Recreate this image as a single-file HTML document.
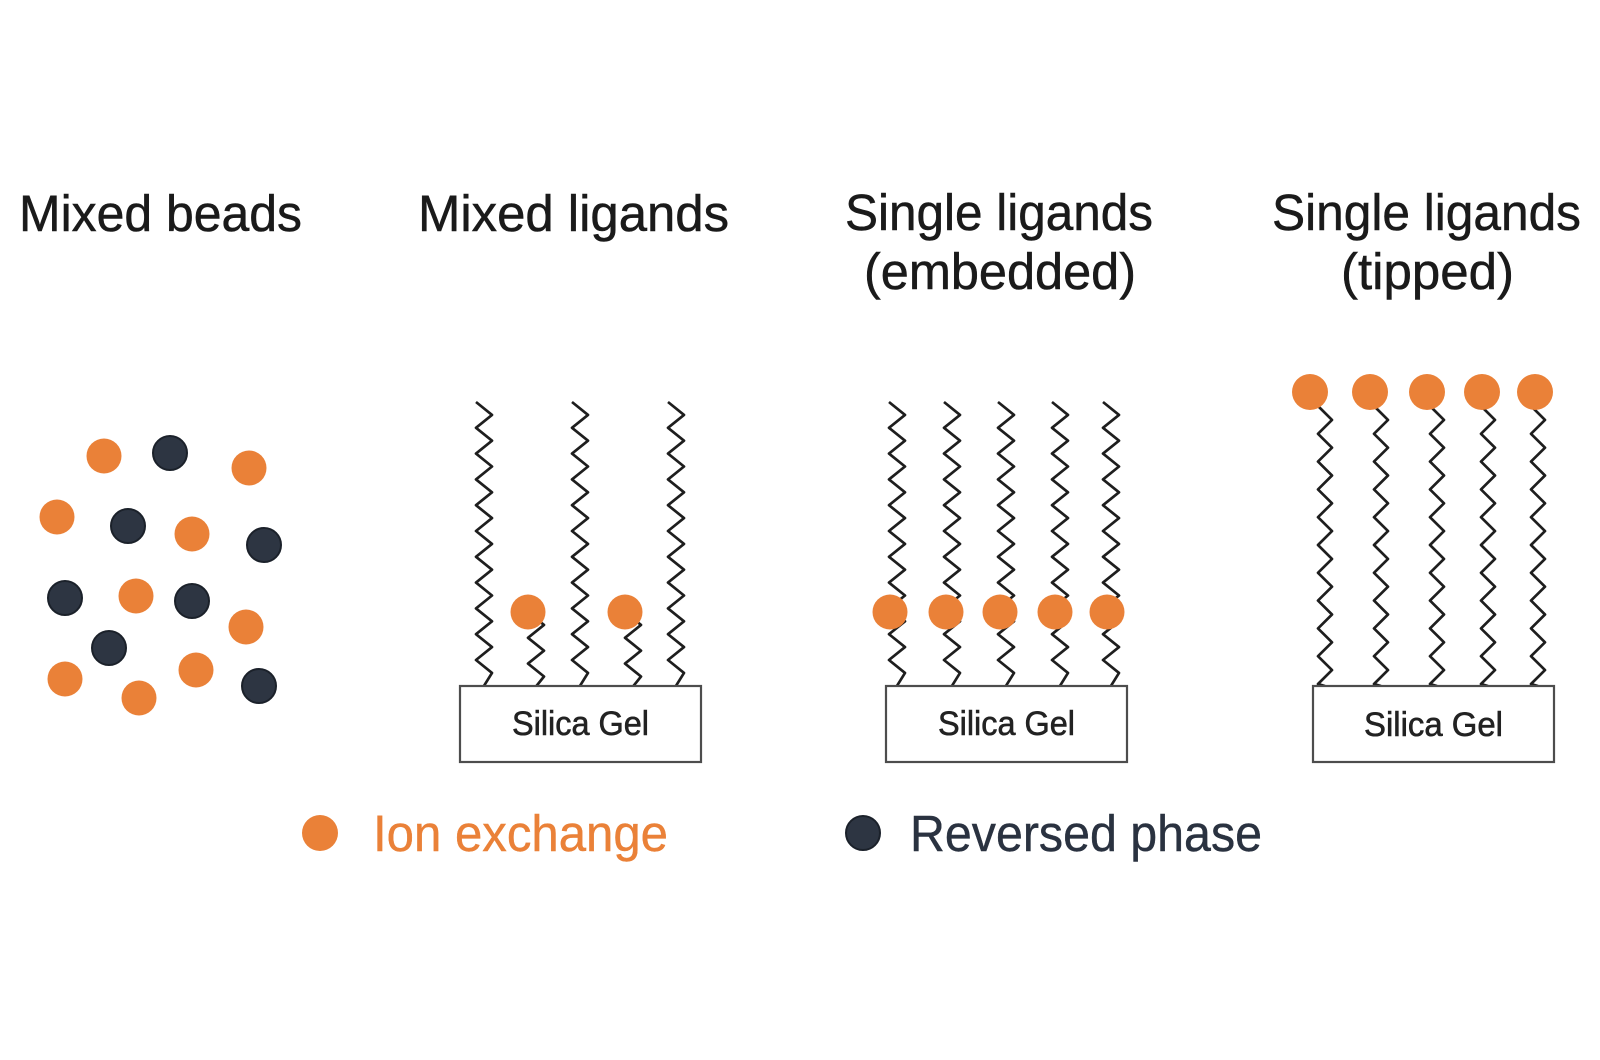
<!DOCTYPE html>
<html>
<head>
<meta charset="utf-8">
<style>
  html, body { margin: 0; padding: 0; background: #ffffff; }
  body { width: 1600px; height: 1060px; overflow: hidden; }
  svg { display: block; }
  text { font-family: "Liberation Sans", Arial, sans-serif; }
</style>
</head>
<body>
<svg width="1600" height="1060" viewBox="0 0 1600 1060" xmlns="http://www.w3.org/2000/svg">
  <defs>
    <path id="lc" fill="none" stroke="#1e1e1e" stroke-width="2.7" stroke-linejoin="round"
      d="M-8,0 l16,12.9 l-16,12.9 l16,12.9 l-16,12.9 l16,12.9 l-16,12.9 l16,12.9 l-16,12.9 l16,12.9 l-16,12.9 l16,12.9 l-16,12.9 l16,12.9 l-16,12.9 l16,12.9 l-16,12.9 l16,12.9 l-16,12.9 l16,12.9 l-16,12.9 l16,12.9 l-8,12.9"/>
    <path id="sc" fill="none" stroke="#1e1e1e" stroke-width="2.7" stroke-linejoin="round"
      d="M-8,0 l16,12.9 l-16,12.9 l16,12.9 l-16,12.9 l16,12.9 l-8,10"/>
    <path id="tc" fill="none" stroke="#1e1e1e" stroke-width="2.7" stroke-linejoin="round"
      d="M-7,0 l14,13.9 l-14,13.9 l14,13.9 l-14,13.9 l14,13.9 l-14,13.9 l14,13.9 l-14,13.9 l14,13.9 l-14,13.9 l14,13.9 l-14,13.9 l14,13.9 l-14,13.9 l14,13.9 l-14,13.9 l14,13.9 l-14,13.9 l14,13.9 l-14,13.9 l7,2"/>
  </defs>

  <rect x="0" y="0" width="1600" height="1060" fill="#ffffff"/>

  <!-- Titles -->
  <g fill="#1a1a1a" stroke="#1a1a1a" stroke-width="0.5" font-size="51">
    <text x="19" y="231" textLength="283" lengthAdjust="spacingAndGlyphs">Mixed beads</text>
    <text x="418" y="231" textLength="311" lengthAdjust="spacingAndGlyphs">Mixed ligands</text>
    <text x="845" y="230" textLength="308" lengthAdjust="spacingAndGlyphs">Single ligands</text>
    <text x="864" y="289" textLength="272" lengthAdjust="spacingAndGlyphs">(embedded)</text>
    <text x="1272" y="230" textLength="309" lengthAdjust="spacingAndGlyphs">Single ligands</text>
    <text x="1341" y="289" textLength="173" lengthAdjust="spacingAndGlyphs">(tipped)</text>
  </g>

  <!-- Column 1: Mixed beads -->
  <g fill="#EA8138">
    <circle cx="104" cy="456" r="17.5"/>
    <circle cx="249" cy="468" r="17.5"/>
    <circle cx="57" cy="517" r="17.5"/>
    <circle cx="192" cy="534" r="17.5"/>
    <circle cx="136" cy="596" r="17.5"/>
    <circle cx="246" cy="627" r="17.5"/>
    <circle cx="65" cy="679" r="17.5"/>
    <circle cx="196" cy="670" r="17.5"/>
    <circle cx="139" cy="698" r="17.5"/>
  </g>
  <g fill="#2d3542" stroke="#1b212a" stroke-width="2">
    <circle cx="170" cy="453" r="17"/>
    <circle cx="128" cy="526" r="17"/>
    <circle cx="264" cy="545" r="17"/>
    <circle cx="65" cy="598" r="17"/>
    <circle cx="192" cy="601" r="17"/>
    <circle cx="109" cy="648" r="17"/>
    <circle cx="259" cy="686" r="17"/>
  </g>

  <!-- Column 2: Mixed ligands -->
  <use href="#lc" x="484" y="402"/>
  <use href="#lc" x="580" y="402"/>
  <use href="#lc" x="676" y="402"/>
  <use href="#sc" x="536" y="612"/>
  <use href="#sc" x="633" y="612"/>
  <g fill="#EA8138">
    <circle cx="528" cy="612" r="17.5"/>
    <circle cx="625" cy="612" r="17.5"/>
  </g>
  <rect x="460" y="686" width="241" height="76" fill="#ffffff" stroke="#4d4d4d" stroke-width="2.2"/>
  <text x="580.5" y="735" font-size="34" fill="#222" stroke="#222" stroke-width="0.6" text-anchor="middle" textLength="137" lengthAdjust="spacingAndGlyphs">Silica Gel</text>

  <!-- Column 3: Single ligands (embedded) -->
  <use href="#lc" x="897" y="402"/>
  <use href="#lc" x="952" y="402"/>
  <use href="#lc" x="1006" y="402"/>
  <use href="#lc" x="1060" y="402"/>
  <use href="#lc" x="1111" y="402"/>
  <g fill="#EA8138">
    <circle cx="890" cy="612" r="17.5"/>
    <circle cx="946" cy="612" r="17.5"/>
    <circle cx="1000" cy="612" r="17.5"/>
    <circle cx="1055" cy="612" r="17.5"/>
    <circle cx="1107" cy="612" r="17.5"/>
  </g>
  <rect x="886" y="686" width="241" height="76" fill="#ffffff" stroke="#4d4d4d" stroke-width="2.2"/>
  <text x="1006.5" y="735" font-size="34" fill="#222" stroke="#222" stroke-width="0.6" text-anchor="middle" textLength="137" lengthAdjust="spacingAndGlyphs">Silica Gel</text>

  <!-- Column 4: Single ligands (tipped) -->
  <use href="#tc" x="1325" y="406"/>
  <use href="#tc" x="1381" y="406"/>
  <use href="#tc" x="1437" y="406"/>
  <use href="#tc" x="1488" y="406"/>
  <use href="#tc" x="1538" y="406"/>
  <g fill="#EA8138">
    <circle cx="1310" cy="392" r="18"/>
    <circle cx="1370" cy="392" r="18"/>
    <circle cx="1427" cy="392" r="18"/>
    <circle cx="1482" cy="392" r="18"/>
    <circle cx="1535" cy="392" r="18"/>
  </g>
  <rect x="1313" y="686" width="241" height="76" fill="#ffffff" stroke="#4d4d4d" stroke-width="2.2"/>
  <text x="1433.5" y="736" font-size="34" fill="#222" stroke="#222" stroke-width="0.6" text-anchor="middle" textLength="139" lengthAdjust="spacingAndGlyphs">Silica Gel</text>

  <!-- Legend -->
  <circle cx="320" cy="833" r="18" fill="#EA8138"/>
  <text x="373" y="851" font-size="51" fill="#EA8138" stroke="#EA8138" stroke-width="0.4" textLength="295" lengthAdjust="spacingAndGlyphs">Ion exchange</text>
  <circle cx="863" cy="833" r="17" fill="#2d3542" stroke="#1b212a" stroke-width="2"/>
  <text x="910" y="851" font-size="51" fill="#2a3240" stroke="#2a3240" stroke-width="0.4" textLength="352" lengthAdjust="spacingAndGlyphs">Reversed phase</text>
</svg>
</body>
</html>
